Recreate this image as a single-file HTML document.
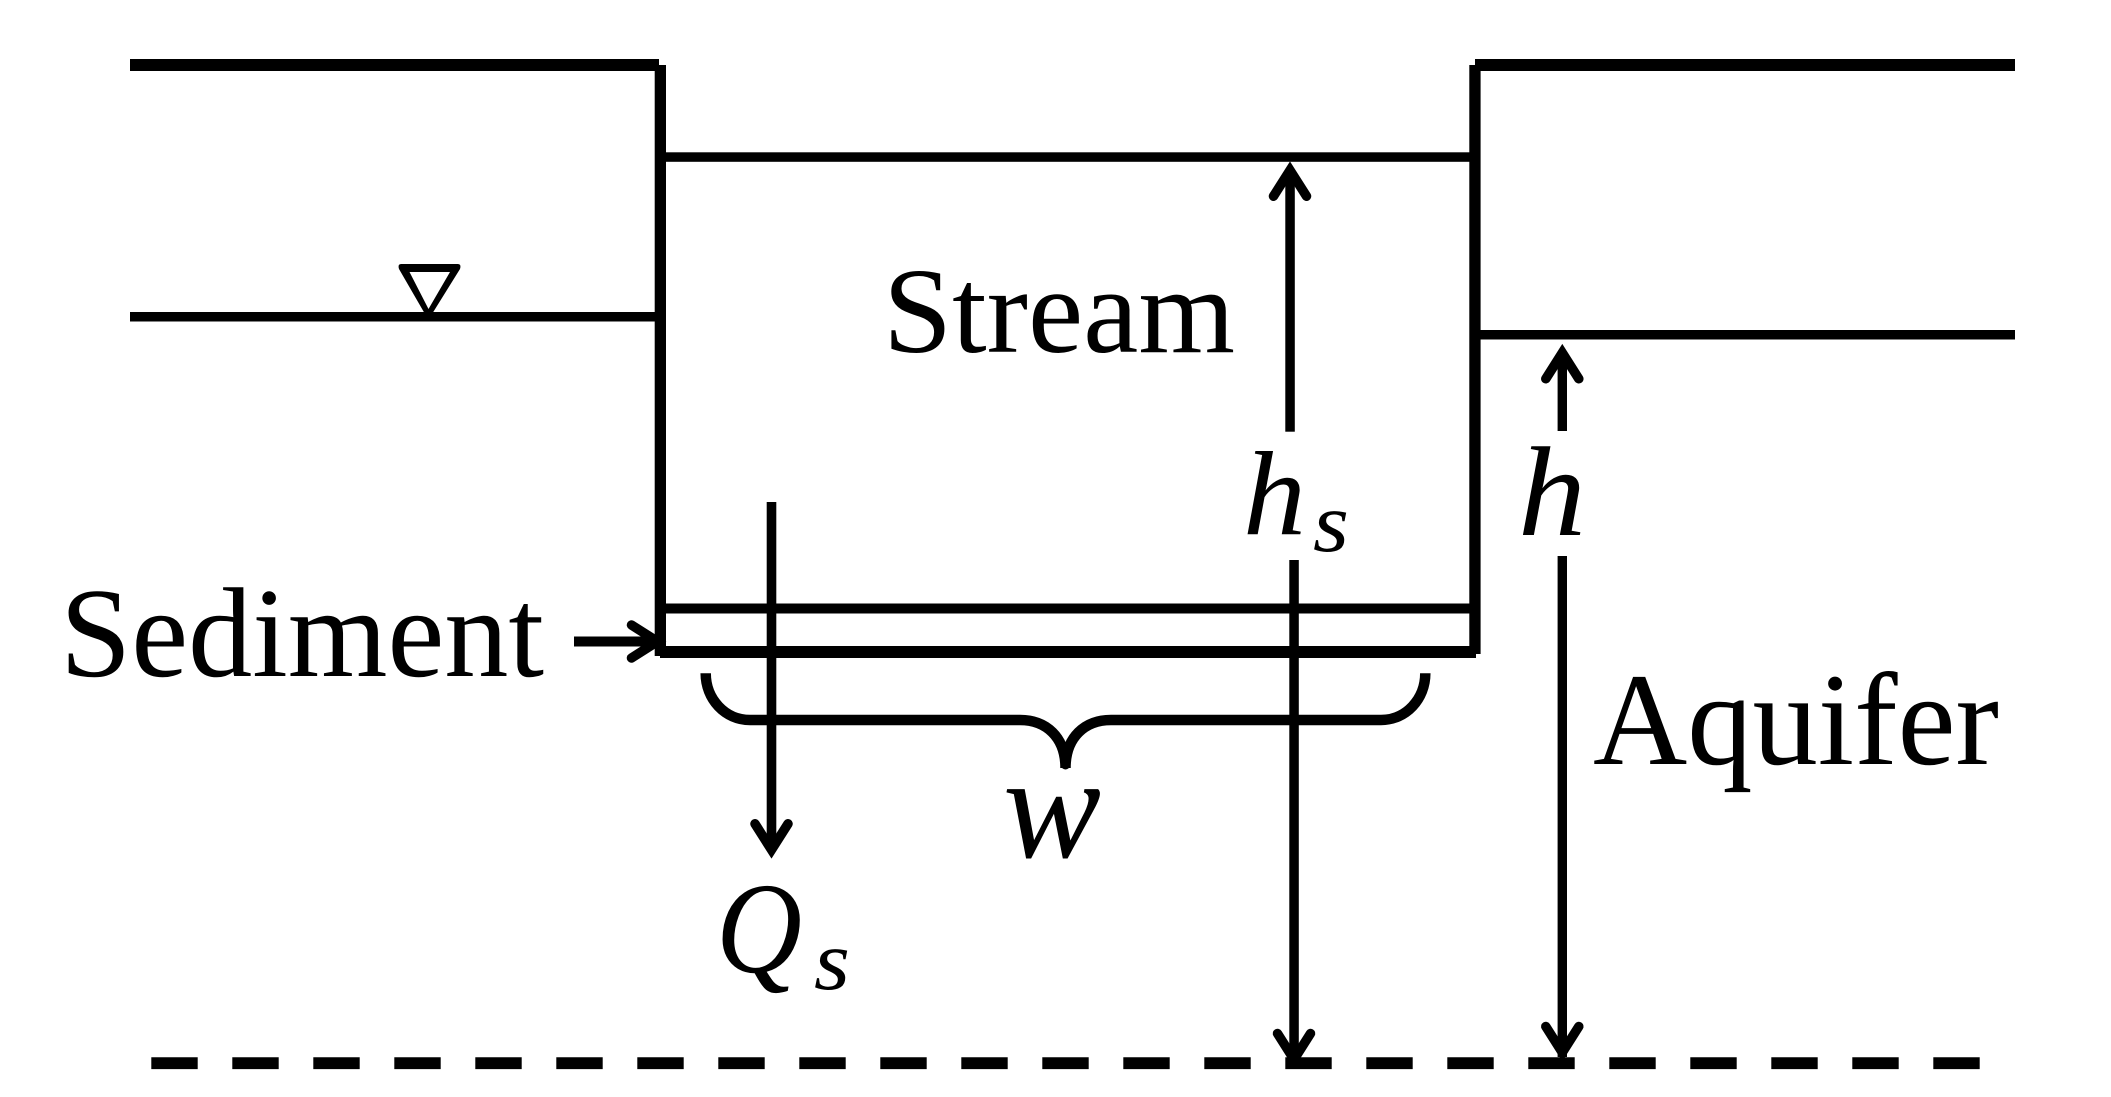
<!DOCTYPE html>
<html lang="en">
<head>
<meta charset="utf-8">
<title>Stream and aquifer diagram</title>
<style>
html,body{margin:0;padding:0;background:#fff;width:2111px;height:1097px;overflow:hidden}
svg{display:block}
text{font-family:"Liberation Serif",serif;fill:#000}
.i{font-style:italic}
</style>
</head>
<body>
<svg xmlns="http://www.w3.org/2000/svg" width="2111" height="1097" viewBox="0 0 2111 1097">
<defs>
<path id="a" d="M-16.500 35.500 L0 9.500 L16.500 35.500" fill="none" stroke="#000" stroke-width="9.500" stroke-linecap="round" stroke-linejoin="miter" stroke-miterlimit="6"/>
</defs>
<rect width="2111" height="1097" fill="#fff"/>
<g fill="#000">
<!-- ground surface -->
<rect x="130" y="59" width="529" height="12"/>
<rect x="1475" y="59" width="540" height="12"/>
<!-- banks -->
<rect x="654.700" y="65" width="11.300" height="591"/>
<rect x="1469.300" y="65" width="11.300" height="589"/>
<!-- stream surface, sediment lines -->
<rect x="666" y="152.300" width="804" height="9.500"/>
<rect x="666" y="603.500" width="804" height="10"/>
<rect x="660" y="646" width="816" height="12"/>
<!-- water tables -->
<rect x="130" y="312" width="526" height="9.500"/>
<rect x="1480" y="330" width="535" height="9.500"/>
<!-- shafts -->
<rect x="1285.300" y="172" width="9.500" height="259.700"/>
<rect x="1557.600" y="355" width="9.400" height="76"/>
<rect x="1289.300" y="560" width="9.500" height="497"/>
<rect x="1557.600" y="556" width="9.400" height="501"/>
<rect x="766.700" y="502" width="9.600" height="345"/>
<rect x="574" y="636.500" width="82" height="10"/>
</g>
<!-- arrowheads -->
<use href="#a" transform="translate(1290 160.700)"/>
<use href="#a" transform="translate(1562.300 343.300)"/>
<use href="#a" transform="translate(1294 1069) rotate(180)"/>
<use href="#a" transform="translate(1562.300 1062) rotate(180)"/>
<use href="#a" transform="translate(771.500 859.300) rotate(180)"/>
<use href="#a" transform="translate(667 641.500) rotate(90)"/>
<!-- water table marker -->
<path fill-rule="evenodd" d="M401 264 H458 Q461.500 264 460 269 L432 314 H425 L399 269 Q397.500 264 401 264 Z M409.500 272 L428.500 309 L450 272 Z" fill="#000"/>
<!-- brace -->
<path d="M705.700 673.300 C705.700 699 725 720 750 720 L1020 720 C1046 720 1065.500 737 1065.500 768 C1065.500 737 1085 720 1111 720 L1381 720 C1406 720 1425.300 699 1425.300 673.300" fill="none" stroke="#000" stroke-width="10.500"/>
<rect x="1061" y="745" width="9" height="20"/>
<circle cx="1065.500" cy="765" r="4.500"/>
<!-- dashed base line -->
<line x1="151.300" y1="1063.200" x2="1981" y2="1063.200" stroke="#000" stroke-width="11.800" stroke-dasharray="46.400 34.600"/>
<!-- labels -->
<text x="60" y="676" font-size="128" textLength="484" lengthAdjust="spacingAndGlyphs">Sediment</text>
<text x="883" y="352" font-size="122" textLength="352" lengthAdjust="spacingAndGlyphs">Stream</text>
<text x="1593" y="764" font-size="132" textLength="406" lengthAdjust="spacingAndGlyphs">Aquifer</text>
<text class="i" x="1243" y="534" font-size="120" textLength="63" lengthAdjust="spacingAndGlyphs">h</text>
<text class="i" x="1313" y="551" font-size="85" textLength="36" lengthAdjust="spacingAndGlyphs">s</text>
<text class="i" x="1518" y="535" font-size="128" textLength="68" lengthAdjust="spacingAndGlyphs">h</text>
<text class="i" x="1003" y="857" font-size="148" textLength="98" lengthAdjust="spacingAndGlyphs">w</text>
<text class="i" x="716" y="972" font-size="130" textLength="86" lengthAdjust="spacingAndGlyphs">Q</text>
<text class="i" x="814" y="989" font-size="85" textLength="36" lengthAdjust="spacingAndGlyphs">s</text>
</svg>
</body>
</html>
